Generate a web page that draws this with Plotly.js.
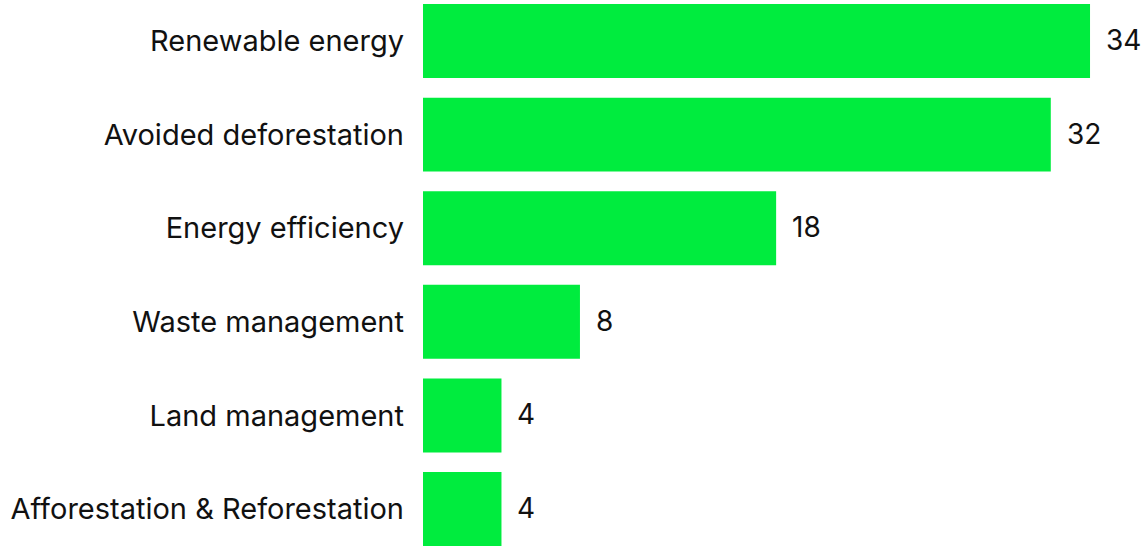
<!DOCTYPE html>
<html>
<head>
<meta charset="utf-8">
<script src="https://cdn.plot.ly/plotly-3.0.1.min.js"></script>
<style>html,body{margin:0;padding:0;background:#fff;}#chart{width:1143px;height:546px;}</style>
</head>
<body>
<div id="chart"></div>
<script>
const categories = ["Renewable energy", "Avoided deforestation", "Energy efficiency", "Waste management", "Land management", "Afforestation & Reforestation"];
const values = [34, 32, 18, 8, 4, 4];
const valueLabels = ["34", "32", "18", "8", "4", "4"];

const FONT = "Inter, Liberation Sans, Arial, sans-serif";
const trace = {
  type: "bar",
  orientation: "h",
  y: categories,
  x: values,
  marker: {color: "#00ec3e", line: {width: 0}},
  hoverinfo: "skip"
};

const annotations = categories.map((c, i) => ({
  x: values[i], y: c, xref: "x", yref: "y",
  text: valueLabels[i], showarrow: false,
  xanchor: "left", yanchor: "middle", xshift: 14, yshift: 1,
  font: {family: FONT, size: 28, color: "#111111"}
}));

const layout = {
  width: 1143, height: 546,
  margin: {l: 423, r: 0, t: 0, b: 0, pad: 0},
  paper_bgcolor: "#ffffff", plot_bgcolor: "#ffffff",
  showlegend: false,
  bargap: 0.21,
  xaxis: {range: [0, 36.7], visible: false, fixedrange: true},
  yaxis: {
    type: "category", range: [5.395, -0.438],
    showgrid: false, zeroline: false, showline: false, ticks: "",
    ticklabelstandoff: 18,
    tickfont: {family: FONT, size: 29, color: "#111111"},
    fixedrange: true
  },
  annotations: annotations
};

Plotly.newPlot("chart", [trace], layout, {displayModeBar: false, staticPlot: true});
</script>
</body>
</html>
